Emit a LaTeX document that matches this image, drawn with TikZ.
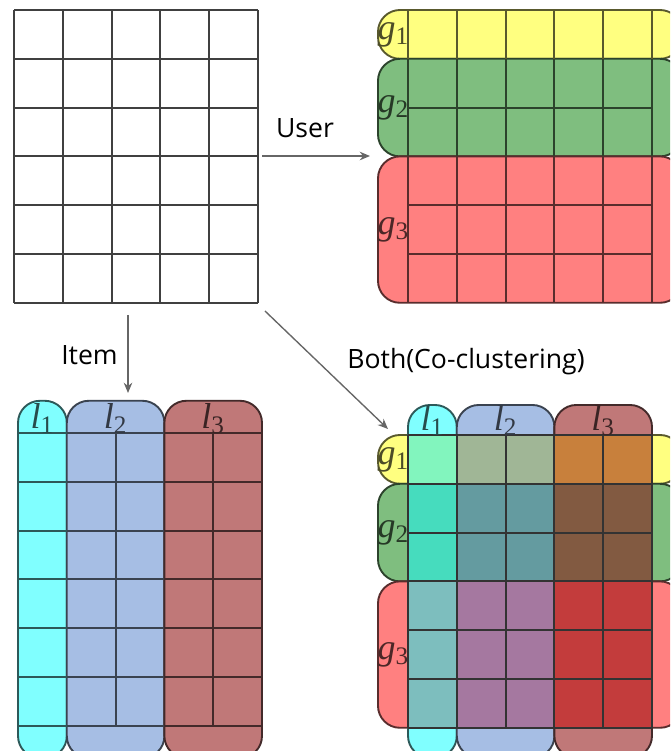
\documentclass[tikz,border=0pt]{standalone}
\usepackage{fontspec}
\setmainfont{Open Sans}
\newfontfamily\timesf{Liberation Serif}
\usetikzlibrary{arrows.meta}

% group colours
\definecolor{gyel}{RGB}{255,255,128}
\definecolor{ggrn}{RGB}{127,190,127}
\definecolor{gred}{RGB}{255,128,128}
\definecolor{lcya}{RGB}{128,255,255}
\definecolor{lblu}{RGB}{166,190,228}
\definecolor{lbrn}{RGB}{192,120,120}
% co-clusters
\definecolor{yc}{RGB}{130,245,190}
\definecolor{yb}{RGB}{160,182,150}
\definecolor{yr}{RGB}{200,128,60}
\definecolor{gc}{RGB}{70,220,190}
\definecolor{gb}{RGB}{100,155,160}
\definecolor{gr}{RGB}{130,90,65}
\definecolor{rc}{RGB}{125,190,190}
\definecolor{rb}{RGB}{165,120,160}
\definecolor{rr}{RGB}{195,60,60}

\tikzset{
  gridln/.style={line width=1.1pt, draw=#1},
  gridln/.default=black!75,
  grp/.style={fill=#1, draw=#1!35!black, line width=1.1pt, rounded corners=0.45cm},
  lab/.style={font=\timesf\fontsize{21}{21}\selectfont, text=#1!30!black, inner sep=0pt},
  txt/.style={font=\fontsize{15.5}{18}\selectfont, inner sep=0pt},
  flow/.style={->, black!60, line width=0.8pt},
}

\begin{document}
\begin{tikzpicture}[x=1cm, y=-1cm, >={Stealth[length=6pt,width=5pt]}]
    \useasboundingbox (0,0) rectangle (13.73,15.39);
    \clip (0,0) rectangle (13.73,15.39);

    % rating matrix
    \begin{scope}[shift={(0.287,0.205)}]
        \foreach \i in {0,...,5} \draw[gridln] (\i,0) -- (\i,6);
        \foreach \j in {0,...,6} \draw[gridln] (0,\j) -- (5,\j);
    \end{scope}

    % user clusters
    \begin{scope}[shift={(8.361,0.205)}]
        \draw[grp=gyel] (-0.615,0) rectangle (5.615,1);
        \draw[grp=ggrn] (-0.615,1) rectangle (5.615,3);
        \draw[grp=gred] (-0.615,3) rectangle (5.615,6);
        \foreach \a/\b/\c in {0/1/gyel, 1/3/ggrn, 3/6/gred}
            \foreach \i in {0,...,5} \draw[gridln=\c!35!black] (\i,\a) -- (\i,\b);
        \foreach \j/\c in {2/ggrn, 4/gred, 5/gred} \draw[gridln=\c!35!black] (0,\j) -- (5,\j);
        \node[lab=gyel] (g1) at (-0.3,0.5) {\textit{g}\textsubscript{1}};
        \node[lab=ggrn] (g2) at (-0.3,2) {\textit{g}\textsubscript{2}};
        \node[lab=gred] (g3) at (-0.3,4.5) {\textit{g}\textsubscript{3}};
    \end{scope}

    % item clusters
    \begin{scope}[shift={(0.369,8.873)}]
        \draw[grp=lcya] (0,-0.66) rectangle (1,6.66);
        \draw[grp=lblu] (1,-0.66) rectangle (3,6.66);
        \draw[grp=lbrn] (3,-0.66) rectangle (5,6.66);
        \foreach \a/\b/\c in {0/1/lcya, 1/3/lblu, 3/5/lbrn}
            \foreach \j in {0,...,6} \draw[gridln=\c!35!black] (\a,\j) -- (\b,\j);
        \foreach \i/\c in {2/lblu, 4/lbrn} \draw[gridln=\c!35!black] (\i,0) -- (\i,6);
        \node[lab=lcya] (l1) at (0.5,-0.3) {\textit{l}\textsubscript{1}};
        \node[lab=lblu] (l2) at (2,-0.3) {\textit{l}\textsubscript{2}};
        \node[lab=lbrn] (l3) at (4,-0.3) {\textit{l}\textsubscript{3}};
    \end{scope}

    % co-clusters
    \begin{scope}[shift={(8.361,8.914)}]
        \draw[grp=gyel] (-0.615,0) rectangle (5.615,1);
        \draw[grp=ggrn] (-0.615,1) rectangle (5.615,3);
        \draw[grp=gred] (-0.615,3) rectangle (5.615,6);
        \draw[grp=lcya] (0,-0.615) rectangle (1,6.615);
        \draw[grp=lblu] (1,-0.615) rectangle (3,6.615);
        \draw[grp=lbrn] (3,-0.615) rectangle (5,6.615);
        \foreach \a/\b/\ca/\cb/\cc in {0/1/yc/yb/yr, 1/3/gc/gb/gr, 3/6/rc/rb/rr} {
            \fill[\ca] (0,\a) rectangle (1,\b);
            \fill[\cb] (1,\a) rectangle (3,\b);
            \fill[\cc] (3,\a) rectangle (5,\b);
        }
        \foreach \i in {0,...,5} \draw[gridln=black!80] (\i,0) -- (\i,6);
        \foreach \j in {0,...,6} \draw[gridln=black!80] (0,\j) -- (5,\j);
        \node[lab=gyel] (cg1) at (-0.3,0.5) {\textit{g}\textsubscript{1}};
        \node[lab=ggrn] (cg2) at (-0.3,2) {\textit{g}\textsubscript{2}};
        \node[lab=gred] (cg3) at (-0.3,4.5) {\textit{g}\textsubscript{3}};
        \node[lab=lcya] (cl1) at (0.5,-0.3) {\textit{l}\textsubscript{1}};
        \node[lab=lblu] (cl2) at (2,-0.3) {\textit{l}\textsubscript{2}};
        \node[lab=lbrn] (cl3) at (4,-0.3) {\textit{l}\textsubscript{3}};
    \end{scope}

    % arrows
    \coordinate (userS) at (5.369,3.197);
    \coordinate (userE) at (7.582,3.197);
    \coordinate (itemS) at (2.623,6.455);
    \coordinate (itemE) at (2.623,8.053);
    \coordinate (bothS) at (5.430,6.373);
    \coordinate (bothE) at (7.951,8.791);
    \draw[flow] (userS) -- (userE);
    \draw[flow] (itemS) -- (itemE);
    \draw[flow] (bothS) -- (bothE);
    \node[txt] (user) at (6.25,2.62) {User};
    \node[txt] (item) at (1.834,7.275) {Item};
    \node[txt] (both) at (9.549,7.418) {Both(Co-clustering)};
\end{tikzpicture}
\end{document}
